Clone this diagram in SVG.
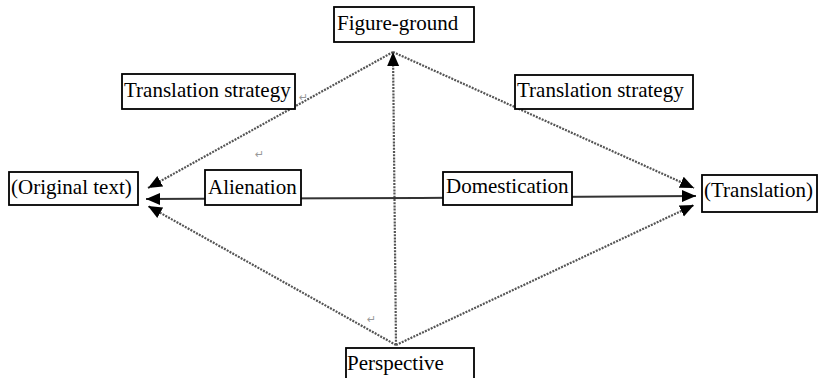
<svg xmlns="http://www.w3.org/2000/svg" width="819" height="378" viewBox="0 0 819 378">
<style>
.box{fill:#fff;stroke:#000;stroke-width:1.8}
.lbl{font-family:"Liberation Serif","Times New Roman",serif;font-size:21px;fill:#000}
.dot{fill:none;stroke:#555;stroke-width:2.2;stroke-dasharray:2 1.2}
.sol{fill:none;stroke:#333;stroke-width:2}
.pm{font-family:"DejaVu Sans",sans-serif;font-size:11px;fill:#999}
</style>
<defs>
<marker id="ah" viewBox="-14 -7 14 14" refX="0" refY="0" markerWidth="14" markerHeight="14" markerUnits="userSpaceOnUse" orient="auto">
<path d="M-14,-6 L0,0 L-14,6 Z" fill="#000"/>
</marker>
</defs>
<g id="connectors">
<line class="dot" x1="393" y1="52" x2="148" y2="188" marker-end="url(#ah)"/>
<line class="dot" x1="393" y1="52" x2="694" y2="188" marker-end="url(#ah)"/>
<line class="dot" x1="396" y1="345" x2="148" y2="206" marker-end="url(#ah)"/>
<line class="dot" x1="396" y1="345" x2="694" y2="205" marker-end="url(#ah)"/>
<line class="dot" x1="396" y1="345" x2="393" y2="52" marker-end="url(#ah)"/>
<line class="sol" x1="420" y1="198" x2="146" y2="199" marker-end="url(#ah)"/>
<line class="sol" x1="420" y1="198" x2="696" y2="196" marker-end="url(#ah)"/>
</g>
<g id="figure-ground"><rect class="box" x="334" y="7" width="140" height="35"/><text class="lbl" x="337" y="30">Figure-ground</text></g>
<g id="ts-left"><rect class="box" x="122" y="74" width="173" height="35"/><text class="lbl" x="124" y="97">Translation strategy</text></g>
<g id="ts-right"><rect class="box" x="515" y="75" width="178" height="34"/><text class="lbl" x="517" y="97">Translation strategy</text></g>
<g id="original"><rect class="box" x="9" y="172" width="129" height="33"/><text class="lbl" x="11" y="194">(Original text)</text></g>
<g id="alienation"><rect class="box" x="205" y="170" width="96" height="35"/><text class="lbl" x="208" y="194">Alienation</text></g>
<g id="domestication"><rect class="box" x="443" y="172" width="129" height="33"/><text class="lbl" x="446" y="193">Domestication</text></g>
<g id="translation"><rect class="box" x="702" y="175" width="115" height="37"/><text class="lbl" x="704" y="197">(Translation)</text></g>
<g id="perspective"><rect class="box" x="346" y="348" width="128" height="35"/><text class="lbl" x="347" y="370">Perspective</text></g>
<text class="pm" x="299" y="101">↵</text>
<text class="pm" x="255" y="158">↵</text>
<text class="pm" x="367" y="323">↵</text>
</svg>
